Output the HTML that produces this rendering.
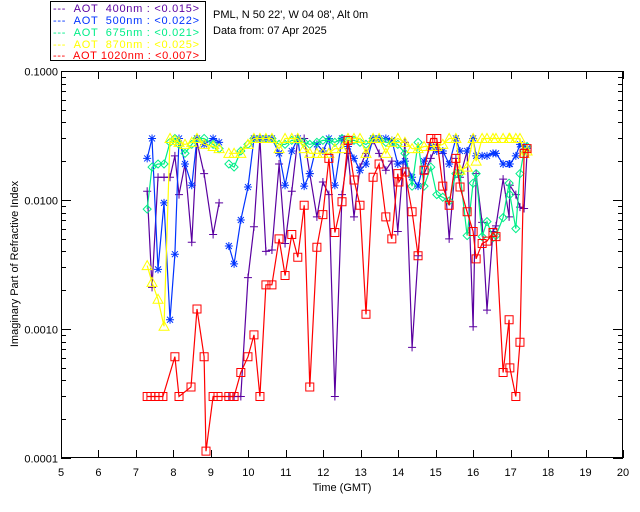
<!DOCTYPE html>
<html><head><meta charset="utf-8"><style>
html,body{margin:0;padding:0;background:#fff;width:640px;height:512px;overflow:hidden}
svg text{font-family:"Liberation Sans",sans-serif;font-size:11px}
</style></head><body>
<svg id="chart" width="640" height="512" xmlns="http://www.w3.org/2000/svg">
<g>
<rect x="50.5" y="1.5" width="155" height="59" fill="#fff" stroke="#000"/>
<text x="53" y="12" textLength="146" lengthAdjust="spacing" fill="#5a00a0">--- &#160;AOT &#160;400nm : &lt;0.015&gt;</text>
<text x="53" y="24" textLength="146" lengthAdjust="spacing" fill="#0033ff">--- &#160;AOT &#160;500nm : &lt;0.022&gt;</text>
<text x="53" y="36" textLength="146" lengthAdjust="spacing" fill="#00ee88">--- &#160;AOT &#160;675nm : &lt;0.021&gt;</text>
<text x="53" y="48" textLength="146" lengthAdjust="spacing" fill="#ffff00">--- &#160;AOT &#160;870nm : &lt;0.025&gt;</text>
<text x="53" y="59" textLength="146" lengthAdjust="spacing" fill="#ff0000">--- &#160;AOT 1020nm : &lt;0.007&gt;</text>
</g>
<text x="213" y="18">PML, N 50 22', W 04 08', Alt 0m</text>
<text x="213" y="34">Data from: 07 Apr 2025</text>
<text x="342" y="491" text-anchor="middle">Time (GMT)</text>
<text transform="translate(18,264) rotate(-90)" text-anchor="middle">Imaginary Part of Refractive Index</text>
<g id="axes"></g>
<g id="plot"></g>
</svg>
<script>
const xTicks=[5,6,7,8,9,10,11,12,13,14,15,16,17,18,19,20];
const yTickLabels=["0.1000","0.0100","0.0010","0.0001"];
const yTickValues=[0.1,0.01,0.001,0.0001];
const timesRed=[7.30,7.40,7.51,7.61,7.72,8.04,8.15,8.47,8.63,8.82,8.87,9.06,9.19,9.48,9.62,9.80,9.99,10.15,10.31,10.47,10.63,10.82,10.98,11.16,11.32,11.49,11.64,11.83,11.99,12.15,12.31,12.50,12.66,12.82,12.98,13.14,13.33,13.49,13.67,13.83,13.99,14.02,14.18,14.37,14.53,14.69,14.87,15.03,15.19,15.36,15.54,15.65,15.84,16.00,16.08,16.24,16.37,16.53,16.61,16.80,16.96,16.98,17.14,17.25,17.36,17.44];
const vals1020=[.0003,.0003,.0003,.0003,.0003,.00061,.0003,.000355,.00143,.00061,.000113,.0003,.0003,.0003,.0003,.00046,.00061,.0009,.0003,.0022,.0022,.005,.0026,.0054,.0036,.0091,.000355,.0043,.0077,.021,.0056,.0097,.029,.0143,.0091,.0013,.015,.019,.0074,.005,.016,.0138,.0165,.0081,.0037,.017,.030,.030,.0128,.0091,.021,.0126,.0081,.0057,.0035,.0046,.0048,.0056,.0052,.00046,.00118,.0005,.0003,.00079,.023,.025];
const times=[7.30,7.43,7.59,7.75,7.91,8.04,8.15,8.31,8.49,8.63,8.82,9.06,9.22,null,9.48,9.62,9.80,9.99,10.15,10.31,10.47,10.63,10.82,10.98,11.16,11.32,11.49,11.64,11.83,11.99,12.15,12.31,12.50,12.66,12.82,12.98,13.14,13.33,13.49,13.67,13.83,13.99,14.18,14.37,14.53,14.69,14.87,15.03,15.19,15.36,15.54,15.65,15.84,16.00,16.08,16.24,16.37,16.53,16.61,16.80,16.96,16.98,17.14,17.25,17.36,17.44];
const vals400=[.0117,.0021,.015,.015,.015,.022,.011,.019,.0047,.028,.016,.0054,.0095,null,.0003,.0003,.0003,.0025,.0062,.03,.004,.0041,.019,.0046,.0117,.03,.03,.016,.0074,.0138,.011,.0003,.011,.023,.0074,.018,.023,.029,.023,.017,.02,.0057,.028,.00072,.0037,.016,.021,.027,.023,.005,.021,.015,.024,.00104,.016,.0067,.0014,.0057,.0063,.0145,.0074,.013,.011,.0088,.0086,.024];
const vals500=[.021,.030,.0029,.0095,.00118,.0038,.030,.019,.013,.030,.027,.03,.028,null,.0044,.0032,.007,.0126,.03,.03,.03,.03,.023,.013,.024,.03,.0128,.016,.027,.024,.03,.013,.03,.026,.021,.017,.019,.03,.03,.03,.029,.019,.02,.015,.0128,.02,.026,.024,.024,.019,.03,.024,.024,.03,.022,.022,.022,.023,.023,.019,.019,.019,.022,.027,.026,.025];
const vals675=[.0085,.018,.019,.019,.028,.030,.027,.023,.027,.03,.03,.027,.025,null,.019,.018,.024,.027,.03,.03,.03,.03,.027,.027,.029,.029,.028,.027,.028,.029,.029,.028,.03,.029,.029,.028,.027,.03,.03,.028,.028,.027,.023,.0128,.028,.0128,.018,.011,.0105,.0098,.016,.016,.0053,.0135,.016,.0052,.0068,.0051,.0053,.0073,.0135,.011,.006,.016,.024,.026];
const vals870=[.0031,.0023,.0017,.00105,.030,.029,.028,.027,.028,.03,.027,.026,.025,null,.023,.023,.023,.027,.03,.03,.03,.03,.025,.03,.03,.03,.025,.023,.023,.023,.023,.025,.025,.03,.03,.03,.023,.03,.03,.023,.028,.03,.028,.025,.025,.026,.026,.026,.027,.03,.03,.017,.018,.03,.02,.03,.03,.03,.03,.03,.03,.03,.03,.03,.023,.024];

const X0=61,X1=623,Y0=71,Y1=458;
const xs=t=>X0+(t-5)/(20-5)*(X1-X0);
const ys=v=>Y0+(Math.log10(0.1)-Math.log10(v))/3*(Y1-Y0);
const NS="http://www.w3.org/2000/svg";
const axes=document.getElementById('axes'),plot=document.getElementById('plot');
function mk(tag,attrs,parent){const e=document.createElementNS(NS,tag);for(const k in attrs)e.setAttribute(k,attrs[k]);parent.appendChild(e);return e;}

const frame=mk('rect',{x:X0+.5,y:Y0+.5,width:X1-X0-1,height:Y1-Y0-1,fill:'none',stroke:'#000'},axes);


xTicks.forEach(t=>{
  const x=Math.round(xs(t))+.5;
  const tk=mk('path',{d:`M${x} ${Y1}V${Y1-8}M${x} ${Y0}V${Y0+8}`,stroke:'#000'},axes);
  
  
  const lb=mk('text',{x:xs(t),y:Y1+18,'text-anchor':'middle'},axes);lb.textContent=t;
  
  
});
yTickValues.forEach((v,i)=>{
  const y=Math.round(ys(v))+.5;
  const tk=mk('path',{d:`M${X0} ${y}H${X0+10}M${X1} ${y}H${X1-10}`,stroke:'#000'},axes);
  
  
  const lb=mk('text',{x:X0-3,y:y+4,'text-anchor':'end'},axes);lb.textContent=yTickLabels[i];
  
  
  if(i<3){for(let m=2;m<=9;m++){const yy=Math.round(ys(v/10*m))+.5;
    const mt=mk('path',{d:`M${X0} ${yy}H${X0+5}M${X1} ${yy}H${X1-5}`,stroke:'#000'},axes);
    
    }}
});

function marker(type,x,y,col,g){
  let d;
  if(type==='plus')d=`M${x-4} ${y}H${x+4}M${x} ${y-4}V${y+4}`;
  else if(type==='star')d=`M${x-4} ${y}H${x+4}M${x} ${y-4}V${y+4}M${x-3} ${y-3}L${x+3} ${y+3}M${x-3} ${y+3}L${x+3} ${y-3}`;
  else if(type==='diamond')d=`M${x} ${y-4}L${x+4} ${y}L${x} ${y+4}L${x-4} ${y}Z`;
  else if(type==='tri')d=`M${x} ${y-5}L${x+5} ${y+4}L${x-5} ${y+4}Z`;
  else d=`M${x-4} ${y-4}H${x+4}V${y+4}H${x-4}Z`;
  const m=mk('path',{d:d,stroke:col,fill:'none','stroke-width':1},g);
  
  
}
function series(name,tArr,vArr,col,type){
  const g=mk('g',{},plot);
  
  
  let d='',pen=false;
  tArr.forEach((t,i)=>{const v=vArr[i];
    if(t==null||v==null){pen=false;return;}
    d+=(pen?'L':'M')+xs(t).toFixed(1)+' '+ys(v).toFixed(1);pen=true;});
  const ln=mk('path',{d:d,stroke:col,fill:'none','stroke-width':1.2},g);
  
  
  tArr.forEach((t,i)=>{const v=vArr[i];if(t==null||v==null)return;marker(type,xs(t),ys(v),col,g);});
}
series('series-400nm',times,vals400,'#5a00a0','plus');
series('series-500nm',times,vals500,'#0033ff','star');
series('series-675nm',times,vals675,'#00ee88','diamond');
series('series-870nm',times,vals870,'#ffff00','tri');
series('series-1020nm',timesRed,vals1020,'#ff0000','square');
</script>
</body></html>
